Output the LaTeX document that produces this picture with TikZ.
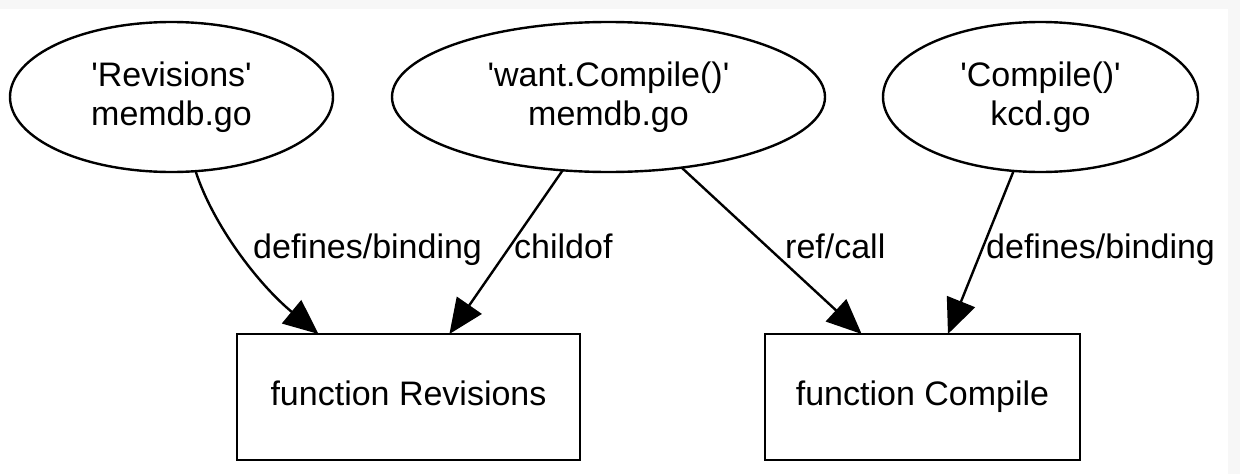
\documentclass[tikz,border=0pt]{standalone}
\usepackage{fontspec}
\newfontfamily\lsans{Liberation Sans}
\usetikzlibrary{shapes.geometric,arrows.meta}
\definecolor{bgstrip}{RGB}{247,247,247}
\begin{document}
\begin{tikzpicture}[x=1pt,y=-1pt,
  txt/.style={font={\lsans\fontsize{34}{39}\selectfont}},
  ell/.style={ellipse, draw, line width=2.4pt, inner sep=0pt, outer sep=0pt, align=center, txt},
  fbox/.style={rectangle, draw, line width=2.4pt, inner sep=0pt, outer sep=0pt, txt, text height=25.5pt, text depth=8.5pt},
  lbl/.style={anchor=west, inner sep=0pt, txt, text height=25.5pt, text depth=8.5pt},
  edge/.style={line width=2.4pt, -{Triangle[length=35pt,width=30pt]}}]
\fill[bgstrip] (0,0) rectangle (1240,474);
\fill[white] (0,9) rectangle (1228,474);
\useasboundingbox (0,0) rectangle (1240,474);

\node[ell, minimum width=323pt, minimum height=150pt] (e1) at (171.5,97) {'Revisions'\\memdb.go};
\node[ell, minimum width=433pt, minimum height=150pt] (e2) at (608.5,97) {'want.Compile()'\\memdb.go};
\node[ell, minimum width=315pt, minimum height=150pt] (e3) at (1040.5,97) {'Compile()'\\kcd.go};

\node[fbox, minimum width=343pt, minimum height=126pt] (b1) at (408.5,397) {function Revisions};
\node[fbox, minimum width=315pt, minimum height=126pt] (b2) at (922.5,397) {function Compile};

\draw[edge] (e1.-72.4) .. controls (213,225) and (258,284) .. (b1.145);
\draw[edge] (e2.-122.9) -- (b1.57.7);
\draw[edge] (e2.-44) -- (b2.134.8);
\draw[edge] (e3.-110.1) -- (b2.68.7);

\node[lbl] (l1) at (253,250) {defines/binding};
\node[lbl] (l2) at (514,250) {childof};
\node[lbl] (l3) at (785,250) {ref/call};
\node[lbl] (l4) at (986,250) {defines/binding};
\end{tikzpicture}
\end{document}
